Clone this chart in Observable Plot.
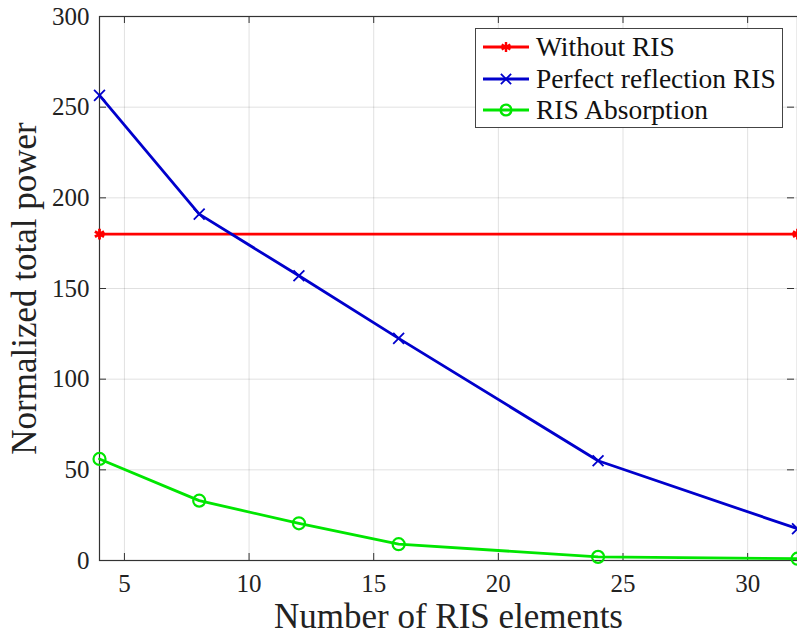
<!DOCTYPE html>
<html><head><meta charset="utf-8">
<script src="https://cdn.jsdelivr.net/npm/d3@7"></script>
<script src="https://cdn.jsdelivr.net/npm/@observablehq/plot@0.6"></script>
<style>
html,body{margin:0;padding:0;background:#fff;overflow:hidden;}
#wrap{position:relative;width:797px;height:636px;}
#legend{position:absolute;left:475px;top:28px;width:308px;height:100px;border:1px solid #444;background:#fff;font-family:"Liberation Serif",serif;font-size:27.5px;color:#111;box-sizing:border-box;}
.row{position:absolute;left:0;height:30px;display:flex;align-items:center;white-space:nowrap;}
.row svg{margin-left:6px;margin-right:6px;}
</style></head>
<body><div id="wrap"></div>
<script>
const seriesNames = ["Without RIS", "Perfect reflection RIS", "RIS Absorption"];
const colors = ["#ff0000", "#0000cc", "#00e600"];
const withoutX = [4, 32];
const withoutY = [180, 180];
const nElements = [4, 8, 12, 16, 24, 32];
const perfectY = [256.5, 191, 157, 122.5, 55, 17.5];
const absorptionY = [56, 33, 20.5, 9, 2, 1];
const xTicks = [5, 10, 15, 20, 25, 30];
const yTicks = [0, 50, 100, 150, 200, 250, 300];

const without = withoutX.map((x, i) => ({x, y: withoutY[i]}));
const perfect = nElements.map((x, i) => ({x, y: perfectY[i]}));
const absorption = nElements.map((x, i) => ({x, y: absorptionY[i]}));

const W = 797, H = 636, mL = 99, mT = 16, mB = 76, mR = 0;
const iw = W - mL - mR, ih = H - mT - mB, tk = 7;

const chart = Plot.plot({
  width: W, height: H,
  marginLeft: mL, marginTop: mT, marginBottom: mB, marginRight: mR,
  style: {fontFamily: "Liberation Serif, serif", background: "white", overflow: "visible"},
  x: {domain: [4, 32], label: null},
  y: {domain: [0, 300], label: null},
  marks: [
    Plot.gridX(xTicks, {stroke: "#000", strokeOpacity: 0.12}),
    Plot.gridY(yTicks, {stroke: "#000", strokeOpacity: 0.12}),
    Plot.axisX(xTicks, {tickSize: 0, tickPadding: 14, fontSize: 25, fill: "#222", label: null}),
    Plot.axisY(yTicks, {tickSize: 0, tickPadding: 10, fontSize: 25, fill: "#222", label: null}),
    Plot.ruleX(xTicks, {x: d => d, y1: 300, y2: 0, insetTop: ih - tk, stroke: "#333"}),
    Plot.ruleX(xTicks, {x: d => d, y1: 300, y2: 0, insetBottom: ih - tk, stroke: "#333"}),
    Plot.ruleY(yTicks, {y: d => d, x1: 4, x2: 32, insetRight: iw - tk, stroke: "#333"}),
    Plot.ruleY(yTicks, {y: d => d, x1: 4, x2: 32, insetLeft: iw - tk - 3, insetRight: 3, stroke: "#333"}),
    Plot.frame({stroke: "#333", strokeWidth: 1.2}),
    Plot.line(without, {x: "x", y: "y", stroke: colors[0], strokeWidth: 2.8}),
    Plot.dot(without, {x: "x", y: "y", stroke: colors[0], symbol: "asterisk", r: 5, strokeWidth: 2.8}),
    Plot.line(perfect, {x: "x", y: "y", stroke: colors[1], strokeWidth: 2.8}),
    Plot.dot(perfect, {x: "x", y: "y", stroke: colors[1], symbol: "times", r: 5, strokeWidth: 1.8}),
    Plot.line(absorption, {x: "x", y: "y", stroke: colors[2], strokeWidth: 2.8}),
    Plot.dot(absorption, {x: "x", y: "y", stroke: colors[2], symbol: "circle", r: 6, strokeWidth: 2.2}),
    Plot.text(["Number of RIS elements"], {frameAnchor: "bottom", dy: 67, fontSize: 35, fill: "#222", text: d => d, lineAnchor: "bottom", textAnchor: "middle"}),
    Plot.text(["Normalized total power"], {frameAnchor: "left", dx: -64, rotate: -90, fontSize: 35, fill: "#222", text: d => d, lineAnchor: "bottom", textAnchor: "middle"})
  ]
});
const wrap = document.getElementById("wrap");
wrap.appendChild(chart);

const legend = document.createElement("div");
legend.id = "legend";
const symbols = ["asterisk", "times", "circle"];
const symMap = {asterisk: d3.symbolAsterisk, times: d3.symbolTimes, circle: d3.symbolCircle};
seriesNames.forEach((name, i) => {
  const row = document.createElement("div");
  row.className = "row";
  row.style.top = (3 + i * 31.5) + "px";
  const s = d3.create("svg").attr("width", 48).attr("height", 20);
  s.append("line").attr("x1", 1).attr("x2", 47).attr("y1", 10).attr("y2", 10).attr("stroke", colors[i]).attr("stroke-width", 2.8);
  s.append("path").attr("transform", "translate(24,10)").attr("d", d3.symbol(symMap[symbols[i]], i === 2 ? 90 : 70)())
    .attr("fill", "none").attr("stroke", colors[i]).attr("stroke-width", i === 1 ? 1.8 : 2.4);
  row.appendChild(s.node());
  const t = document.createElement("span");
  t.textContent = name;
  row.appendChild(t);
  legend.appendChild(row);
});
wrap.appendChild(legend);
</script></body></html>
